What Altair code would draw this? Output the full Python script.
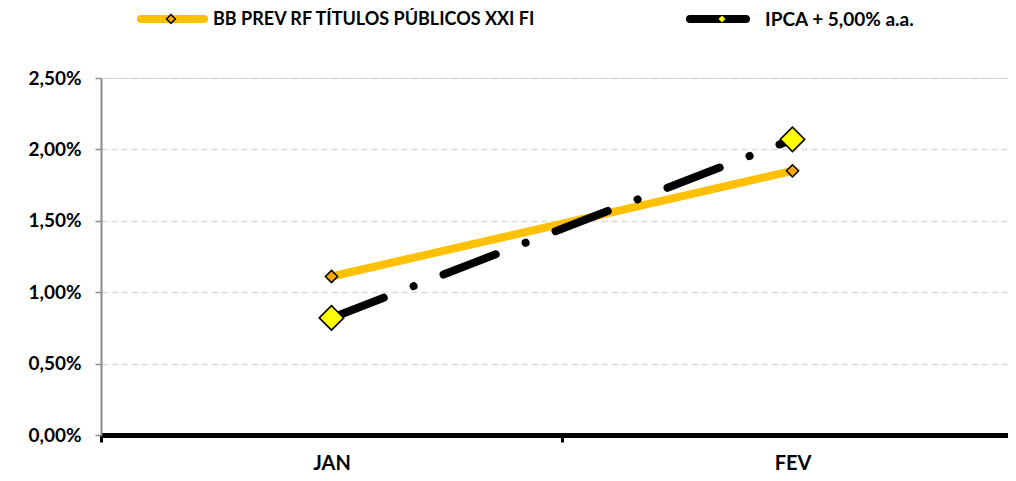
import altair as alt
import pandas as pd

months = ["JAN", "FEV"]
fund_values = [1.11, 1.85]
bench_values = [0.82, 2.07]
series_names = ["BB PREV RF TÍTULOS PÚBLICOS XXI FI", "IPCA + 5,00% a.a."]
y_ticks = [0, 0.5, 1.0, 1.5, 2.0, 2.5]

fund_df = pd.DataFrame({"mes": months, "valor": fund_values})
bench_df = pd.DataFrame({"mes": months, "valor": bench_values})

W, H = 907, 357
FONT = "Lato"
ORANGE = "#FFC000"
ORANGE_MK = "#F5A800"
YELLOW = "#FFFF00"

x_enc = alt.X(
    "mes:N", sort=months, bandPosition=0.5,
    scale=alt.Scale(type="band", domain=months, range=[0, 922], paddingInner=0, paddingOuter=0),
    axis=alt.Axis(title=None, labelAngle=0, labelFont=FONT, labelFontSize=20,
                  labelFontWeight="bold", labelColor="black", labelPadding=11,
                  domainColor="black", domainWidth=5, tickColor="black",
                  tickWidth=3, tickSize=7, tickBand="extent", grid=False),
)
y_enc = alt.Y(
    "valor:Q", scale=alt.Scale(domain=[0, 2.5], nice=False),
    axis=alt.Axis(title=None, values=y_ticks,
                  labelExpr="replace(format(datum.value, '.2f'), '.', ',') + '%'",
                  labelFont=FONT, labelFontSize=19, labelFontWeight="bold",
                  labelColor="black", labelPadding=14,
                  domainColor="#8c8c8c", domainWidth=2, tickColor="#8c8c8c",
                  tickWidth=1.5, tickSize=6, gridColor="#d9d9d9",
                  gridDash=[6, 4], gridWidth=1.5),
)

fund_line = alt.Chart(fund_df).mark_line(color=ORANGE, strokeWidth=8).encode(x=x_enc, y=y_enc)
bench_line = alt.Chart(bench_df).mark_line(
    color="black", strokeWidth=8, strokeDash=[56, 32, 0.1, 32], strokeCap="round"
).encode(x=x_enc, y=y_enc)
fund_pts = alt.Chart(fund_df).mark_point(
    shape="diamond", filled=True, fill=ORANGE_MK, stroke="black", strokeWidth=1.5,
    size=150, opacity=1
).encode(x=x_enc, y=y_enc)
bench_pts = alt.Chart(bench_df).mark_point(
    shape="diamond", filled=True, fill=YELLOW, stroke="black", strokeWidth=1.5,
    size=600, opacity=1
).encode(x=x_enc, y=y_enc)

one = alt.Data(values=[{}])
LY = -59
leg1_line = alt.Chart(one).mark_rule(color=ORANGE, strokeWidth=8, strokeCap="round").encode(
    x=alt.value(40), x2=alt.value(103), y=alt.value(LY))
leg1_pt = alt.Chart(one).mark_point(shape="diamond", filled=True, fill=ORANGE_MK, stroke="black",
                                    strokeWidth=1.5, size=80, opacity=1).encode(
    x=alt.value(70), y=alt.value(LY))
leg1_txt = alt.Chart(one).mark_text(align="left", baseline="middle", font=FONT, fontSize=18,
                                    fontWeight="bold", color="black", dy=1).encode(
    x=alt.value(112), y=alt.value(LY), text=alt.value(series_names[0]))
leg2_line = alt.Chart(one).mark_rule(color="black", strokeWidth=8, strokeCap="round").encode(
    x=alt.value(589), x2=alt.value(645), y=alt.value(LY))
leg2_pt = alt.Chart(one).mark_point(shape="diamond", filled=True, fill=YELLOW, stroke="black",
                                    strokeWidth=0.8, size=60, opacity=1).encode(
    x=alt.value(621), y=alt.value(LY))
leg2_txt = alt.Chart(one).mark_text(align="left", baseline="middle", font=FONT, fontSize=19,
                                    fontWeight="bold", color="black", dy=1).encode(
    x=alt.value(664), y=alt.value(LY), text=alt.value(series_names[1]))

chart = alt.layer(
    fund_line, bench_line, fund_pts, bench_pts,
    leg1_line, leg1_pt, leg1_txt, leg2_line, leg2_pt, leg2_txt,
).properties(
    width=W, height=H,
    autosize=alt.AutoSizeParams(type="none"),
    padding={"left": 93, "top": 70, "right": 0, "bottom": 38},
).configure_view(stroke=None).configure(background="white")

chart.save("out.html", embed_options={"renderer": "svg", "actions": False})
